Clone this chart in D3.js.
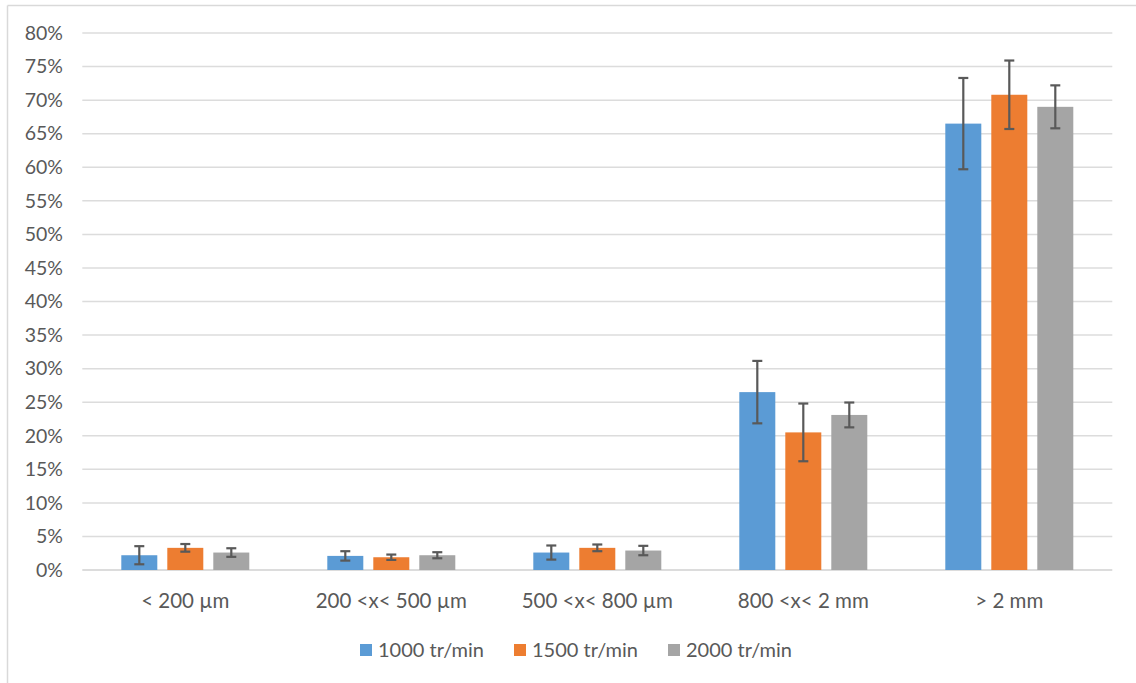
<!DOCTYPE html>
<html>
<head>
<meta charset="utf-8">
<script src="https://cdn.jsdelivr.net/npm/d3@7"></script>
<style>
  html, body { margin: 0; padding: 0; background: #fff; }
  svg { display: block; }
  text { font-family: Lato, "Open Sans", sans-serif; fill: #595959; }
</style>
</head>
<body>
<svg id="chart" width="1136" height="683"></svg>
<script>
const categories = ["< 200 µm", "200 <x< 500 µm", "500 <x< 800 µm", "800 <x< 2 mm", "> 2 mm"];
const seriesNames = ["1000 tr/min", "1500 tr/min", "2000 tr/min"];
const values1000 = [2.2, 2.1, 2.6, 26.5, 66.5];
const values1500 = [3.3, 1.9, 3.3, 20.5, 70.8];
const values2000 = [2.6, 2.2, 2.9, 23.1, 69.0];
const errors1000 = [1.35, 0.7, 1.05, 4.65, 6.8];
const errors1500 = [0.57, 0.4, 0.5, 4.3, 5.1];
const errors2000 = [0.64, 0.45, 0.7, 1.85, 3.2];
const yTicks = [0, 5, 10, 15, 20, 25, 30, 35, 40, 45, 50, 55, 60, 65, 70, 75, 80];
const colors = ["#5B9BD5", "#ED7D31", "#A5A5A5"];

const seriesValues = [values1000, values1500, values2000];
const seriesErrors = [errors1000, errors1500, errors2000];

const svg = d3.select("#chart");

// chart border (top and left visible)
svg.append("line").attr("x1", 7.5).attr("x2", 1136).attr("y1", 5.5).attr("y2", 5.5)
  .attr("stroke", "#d9d9d9").attr("stroke-width", 1.5);
svg.append("line").attr("x1", 7.5).attr("x2", 7.5).attr("y1", 5.5).attr("y2", 683)
  .attr("stroke", "#d9d9d9").attr("stroke-width", 1.5);

const x0 = d3.scaleBand().domain(categories).range([82.3, 1112.3]).paddingInner(0).paddingOuter(0);
const x1 = d3.scaleBand().domain(seriesNames).range([0, x0.bandwidth()])
  .paddingInner(10 / 46).paddingOuter(0.848);
const y = d3.scaleLinear().domain([0, 80]).range([570, 33]);

// gridlines
const grid = svg.append("g");
grid.selectAll("line").data(yTicks).join("line")
  .attr("x1", 82.3).attr("x2", 1112.3)
  .attr("y1", d => y(d)).attr("y2", d => y(d))
  .attr("stroke", "#dcdcdc").attr("stroke-width", d => d === 0 ? 2 : 1.5);

// y axis labels
const yAxis = d3.axisLeft(y).tickValues(yTicks).tickFormat(d => d + "%").tickSize(0).tickPadding(0);
const yg = svg.append("g").attr("transform", "translate(63,0)").call(yAxis);
yg.select(".domain").remove();
yg.selectAll("text").attr("font-size", 19.5).attr("font-family", "Lato, sans-serif").attr("fill", "#595959");

// bars
const data = [];
categories.forEach((c, i) => {
  seriesNames.forEach((s, j) => {
    data.push({ cat: c, ser: s, v: seriesValues[j][i], e: seriesErrors[j][i], color: colors[j] });
  });
});

const bars = svg.append("g");
bars.selectAll("rect").data(data).join("rect")
  .attr("x", d => x0(d.cat) + x1(d.ser))
  .attr("width", x1.bandwidth())
  .attr("y", d => y(d.v))
  .attr("height", d => y(0) - y(d.v))
  .attr("fill", d => d.color);

// error bars
const eb = svg.append("g").attr("stroke", "#595959").attr("stroke-width", 2.2);
const cx = d => x0(d.cat) + x1(d.ser) + x1.bandwidth() / 2;
eb.selectAll("line.v").data(data).join("line").attr("class", "v")
  .attr("x1", cx).attr("x2", cx)
  .attr("y1", d => y(d.v + d.e)).attr("y2", d => y(Math.max(0, d.v - d.e)));
eb.selectAll("line.t").data(data).join("line").attr("class", "t")
  .attr("x1", d => cx(d) - 5).attr("x2", d => cx(d) + 5)
  .attr("y1", d => y(d.v + d.e)).attr("y2", d => y(d.v + d.e));
eb.selectAll("line.b").data(data).join("line").attr("class", "b")
  .attr("x1", d => cx(d) - 5).attr("x2", d => cx(d) + 5)
  .attr("y1", d => y(Math.max(0, d.v - d.e))).attr("y2", d => y(Math.max(0, d.v - d.e)));

// x axis labels
const xAxis = d3.axisBottom(x0).tickSize(0).tickPadding(0);
const xg = svg.append("g").attr("transform", "translate(0,593)").call(xAxis);
xg.select(".domain").remove();
xg.selectAll("text").attr("font-size", 20.5).attr("font-family", "Lato, sans-serif").attr("fill", "#595959");

// legend
const legendX = [360, 514, 668];
const lg = svg.append("g");
seriesNames.forEach((s, j) => {
  const g = lg.append("g").attr("transform", `translate(${legendX[j]},650)`);
  g.append("rect").attr("x", 0).attr("y", -6).attr("width", 12).attr("height", 12).attr("fill", colors[j]);
  g.append("text").attr("x", 18).attr("y", 0).attr("dy", "0.35em")
    .attr("font-size", 20).text(s);
});
</script>
</body>
</html>
